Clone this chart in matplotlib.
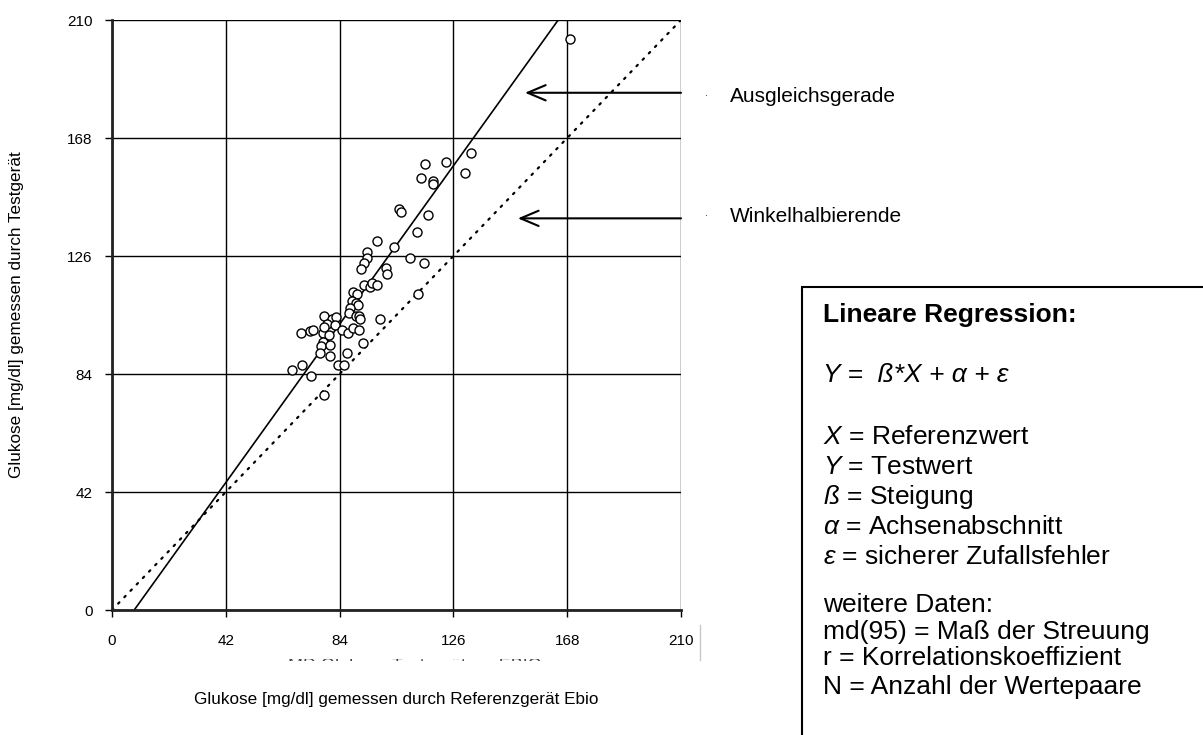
import matplotlib
matplotlib.use("Agg")
import matplotlib.pyplot as plt
from matplotlib.patches import Rectangle
from matplotlib.lines import Line2D
from matplotlib.transforms import Bbox

plt.rcParams['font.family'] = ['Liberation Sans', 'DejaVu Sans']
plt.rcParams['mathtext.fontset'] = 'custom'
plt.rcParams['mathtext.rm'] = 'Liberation Sans'
plt.rcParams['mathtext.it'] = 'Liberation Sans:italic'

# Glucose pairs: reference device (Ebio) vs. test device, mg/dl
ref_vals = [132.6, 123.1, 115.6, 130.3, 113.9, 118.5, 118.5, 105.8, 106.8, 116.7,
            112.4, 97.9, 104.1, 94.2, 94.2, 110.1, 92.9, 115.2, 91.8, 101.2,
            101.6, 92.9, 95.2, 96.1, 97.9, 89.0, 90.5, 112.9, 88.7, 90.0,
            90.9, 87.8, 87.6, 90.0, 91.3, 91.5, 78.2, 81.1, 82.5, 98.8,
            79.2, 82.3, 84.8, 87.2, 89.0, 91.3, 69.7, 73.1, 74.1, 77.7,
            78.3, 80.2, 77.7, 77.1, 80.4, 76.8, 80.6, 86.7, 92.7, 70.2,
            66.5, 83.5, 85.6, 73.5, 78.2, 169.0]
test_vals = [162.5, 159.5, 158.6, 155.6, 153.6, 152.8, 151.6, 142.6, 141.5, 140.5,
             134.6, 131.3, 129.3, 127.4, 125.4, 125.4, 123.4, 123.4, 121.5, 121.6,
             119.6, 115.7, 115.1, 116.3, 115.7, 113.1, 112.5, 112.3, 110.1, 109.4,
             108.5, 107.4, 105.6, 104.6, 104.6, 103.5, 104.6, 103.5, 104.4, 103.5,
             101.8, 101.4, 99.6, 98.7, 100.5, 99.6, 98.7, 99.4, 99.6, 98.7,
             100.8, 97.9, 95.5, 94.0, 94.3, 91.4, 90.3, 91.4, 95.1, 87.3,
             85.4, 87.2, 87.2, 83.4, 76.5, 203.1]

# fitted regression line  y = slope * x + intercept
slope = 1.342
intercept = -11.0

ticks = [0, 42, 84, 126, 168, 210]

W, H = 1203, 735
fig = plt.figure(figsize=(W / 100, H / 100), dpi=100)
ax = fig.add_axes([112 / W, 1 - 610 / H, 569 / W, 590 / H])
ax.set_xlim(0, 210)
ax.set_ylim(0, 210)
ax.set_xticks(ticks)
ax.set_yticks(ticks)
ax.grid(True, color='black', linewidth=1.0)
ax.set_axisbelow(True)

for side in ['top', 'right']:
    ax.spines[side].set_visible(False)
for side in ['left', 'bottom']:
    ax.spines[side].set_linewidth(2.0)
    ax.spines[side].set_color('#222222')
    ax.spines[side].set_zorder(5)

ax.tick_params(axis='both', direction='out', length=5, width=1.0, labelsize=11)
ax.tick_params(axis='x', pad=12)
ax.tick_params(axis='y', pad=9)

# bisector (y = x)
ax.plot([0, 210], [0, 210], color='black', linestyle=(0, (0.8, 3.2)), linewidth=1.6,
        dash_capstyle='round')
# regression line, drawn between y = 0 and y = 210
x0 = -intercept / slope
x1 = (210 - intercept) / slope
ax.plot([x0, x1], [0, 210], color='black', linewidth=1.2)

ax.plot(ref_vals, test_vals, linestyle='none', marker='o', markersize=6.5,
        markerfacecolor='white', markeredgecolor='black', markeredgewidth=1.0,
        zorder=4)

ax.set_xlabel('Glukose [mg/dl] gemessen durch Referenzgerät Ebio', fontsize=12.3,
              labelpad=32)
ax.set_ylabel('Glukose [mg/dl] gemessen durch Testgerät', fontsize=12.3, labelpad=31)

# arrows pointing at the two lines
arrow = dict(arrowstyle='->,head_length=1.3,head_width=0.55', color='black',
             linewidth=1.5, shrinkA=0, shrinkB=0)
ax.annotate('', xy=(152.4, 184.1), xytext=(210, 184.1), arrowprops=arrow,
            annotation_clip=False)
ax.annotate('', xy=(149.8, 139.4), xytext=(210, 139.4), arrowprops=arrow,
            annotation_clip=False)

fig.text(730 / W, 1 - 97 / H, 'Ausgleichsgerade', fontsize=15, va='center')
fig.text(730 / W, 1 - 217 / H, 'Winkelhalbierende', fontsize=15, va='center')
fig.text(705 / W, 1 - 96 / H, '·', fontsize=7, va='center')
fig.text(705 / W, 1 - 216 / H, '·', fontsize=7, va='center')

# caption hidden under the tick row, only its top edge shows
cap = fig.text(288 / W, 1 - 658 / H, 'MD Glukose Testgerät vs. EBIO', fontsize=13,
               va='top', color='#444444')
cap.set_clip_box(Bbox.from_extents(0, H - 661, W, H - 659))
cap.set_clip_on(True)
fig.add_artist(Line2D([700 / W, 700 / W], [1 - 660 / H, 1 - 625 / H],
                      transform=fig.transFigure, color='#c8c8c8', linewidth=1.0))

# legend box with the regression model
box = Rectangle((802 / W, -0.1), 0.5, 1.1 - 287 / H, transform=fig.transFigure,
                facecolor='white', edgecolor='black', linewidth=1.5)
fig.add_artist(box)

tx = 823 / W
lines = [
    (315, 'Lineare Regression:', dict(fontweight='bold')),
    (375, 'Y =  ß*X + α + ε', dict(style='italic')),
    (437, r'$X$ = Referenzwert', {}),
    (467, r'$Y$ = Testwert', {}),
    (497, r'$ß$ = Steigung', {}),
    (527, r'$α$ = Achsenabschnitt', {}),
    (557, r'$ε$ = sicherer Zufallsfehler', {}),
    (605, 'weitere Daten:', {}),
    (632, 'md(95) = Maß der Streuung', {}),
    (658, 'r = Korrelationskoeffizient', {}),
    (687, 'N = Anzahl der Wertepaare', {}),
]
for py, txt, kw in lines:
    fig.text(tx, 1 - py / H, txt, fontsize=19, va='center', **kw)

plt.savefig('out.png', dpi=100)
